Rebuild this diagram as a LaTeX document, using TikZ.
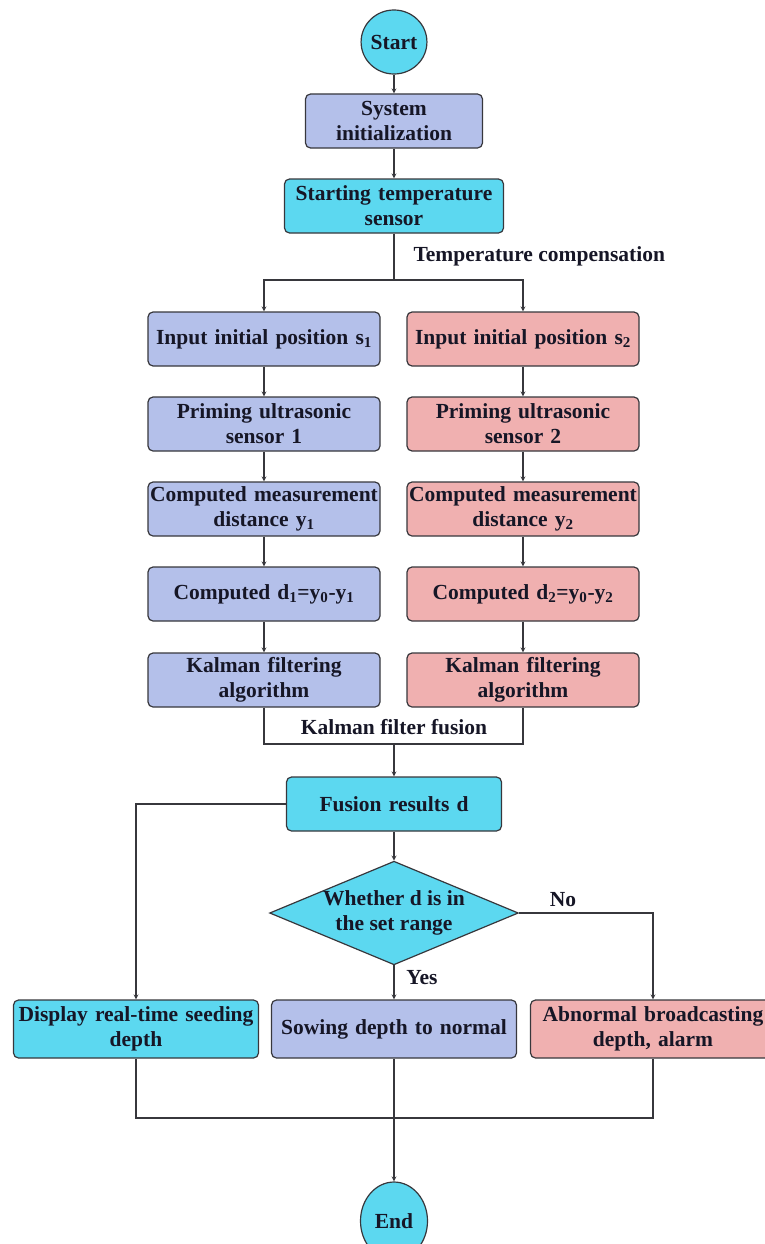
\documentclass[tikz,border=0pt]{standalone}
\usepackage{fontspec}
\setmainfont{Liberation Serif}
\usepackage{xcolor}
\usetikzlibrary{arrows,shapes.geometric}

\definecolor{boxblue}{RGB}{180,192,234}
\definecolor{boxcyan}{RGB}{92,216,240}
\definecolor{boxpink}{RGB}{240,176,176}
\definecolor{linegray}{RGB}{55,55,60}
\definecolor{inkdark}{RGB}{22,22,38}

\tikzset{
  base/.style={draw=linegray, line width=1.2pt, text=inkdark, align=center,
    font=\bfseries\fontsize{21.5}{25}\selectfont},
  term/.style={base, ellipse, fill=boxcyan, inner sep=0pt},
  proc/.style={base, rounded corners=5pt, inner sep=2pt, minimum height=54pt},
  colbox/.style={proc, text width=228pt},
  botbox/.style={proc, text width=241pt, minimum height=58pt},
  decide/.style={base, diamond, fill=boxcyan, aspect=2.4, inner sep=0pt},
  lbl/.style={text=inkdark, font=\bfseries\fontsize{21.5}{25}\selectfont},
  line/.style={draw=linegray, line width=1.2pt},
  arr/.style={line, ->, >=stealth}
}

\begin{document}
\begin{tikzpicture}[x=1pt, y=1pt]
\useasboundingbox (0,0) rectangle (764,-1244);

\node[term, minimum width=64pt, minimum height=64pt](start) at (394,-42){Start};
\node[proc, fill=boxblue, text width=173pt, below of=start, node distance=79pt](init){System\\initialization};
\node[proc, fill=boxcyan, text width=215pt, below of=init, node distance=85pt](temp){Starting temperature\\sensor};

\coordinate[below of=temp, node distance=74pt](split);
\node[lbl, anchor=west](tc) at ([shift={(16,24)}]split){Temperature compensation};

% left column
\node[colbox, fill=boxblue](L1) at (264,-339){Input initial position s\textsubscript{1}};
\node[colbox, fill=boxblue, below of=L1, node distance=85pt](L2){Priming ultrasonic\\sensor 1};
\node[colbox, fill=boxblue, below of=L2, node distance=85pt](L3){Computed measurement\\distance y\textsubscript{1}};
\node[colbox, fill=boxblue, below of=L3, node distance=85pt](L4){Computed d\textsubscript{1}=y\textsubscript{0}-y\textsubscript{1}};
\node[colbox, fill=boxblue, below of=L4, node distance=86pt](L5){Kalman filtering\\algorithm};

% right column
\node[colbox, fill=boxpink, right of=L1, node distance=259pt](R1){Input initial position s\textsubscript{2}};
\node[colbox, fill=boxpink, below of=R1, node distance=85pt](R2){Priming ultrasonic\\sensor 2};
\node[colbox, fill=boxpink, below of=R2, node distance=85pt](R3){Computed measurement\\distance y\textsubscript{2}};
\node[colbox, fill=boxpink, below of=R3, node distance=85pt](R4){Computed d\textsubscript{2}=y\textsubscript{0}-y\textsubscript{2}};
\node[colbox, fill=boxpink, below of=R4, node distance=86pt](R5){Kalman filtering\\algorithm};

\coordinate[below of=L5, node distance=64pt](mergeL);
\coordinate (merge) at (mergeL -| temp);
\node[lbl, above of=merge, node distance=17pt](kff){Kalman filter fusion};

\node[proc, fill=boxcyan, text width=211pt, below of=merge, node distance=60pt](fus){Fusion results d};
\node[decide, below of=fus, node distance=109pt](dia){Whether d is in\\the set range};

\node[botbox, fill=boxblue, below of=dia, node distance=116pt](sow){Sowing depth to normal};
\node[botbox, fill=boxcyan, left of=sow, node distance=258pt](disp){Display real-time seeding\\depth};
\node[botbox, fill=boxpink, right of=sow, node distance=259pt](abn){Abnormal broadcasting\\depth, alarm};

\node[lbl, right of=dia, node distance=169pt, yshift=13pt](no){No};
\node[lbl, below of=dia, node distance=65pt, xshift=28pt](yes){Yes};

\coordinate[below of=sow, node distance=89pt](join);
\node[term, minimum width=67pt, minimum height=78pt, below of=join, node distance=103pt](end){End};

\draw[arr] (start) -- (init);
\draw[arr] (init) -- (temp);
\draw[line] (temp) -- (split);
\draw[arr] (split) -| (L1.north);
\draw[arr] (split) -| (R1.north);

\draw[arr] (L1) -- (L2);
\draw[arr] (L2) -- (L3);
\draw[arr] (L3) -- (L4);
\draw[arr] (L4) -- (L5);
\draw[arr] (R1) -- (R2);
\draw[arr] (R2) -- (R3);
\draw[arr] (R3) -- (R4);
\draw[arr] (R4) -- (R5);

\draw[line] (L5.south) -- (mergeL) -| (R5.south);
\draw[arr] (merge) -- (fus);
\draw[arr] (fus) -- (dia);
\draw[arr] (fus.west) -| (disp.north);
\draw[arr] (dia.east) -| (abn.north);
\draw[arr] (dia) -- (sow);

\draw[line] (disp.south) |- (join) -| (abn.south);
\draw[arr] (sow) -- (end);
\end{tikzpicture}
\end{document}
